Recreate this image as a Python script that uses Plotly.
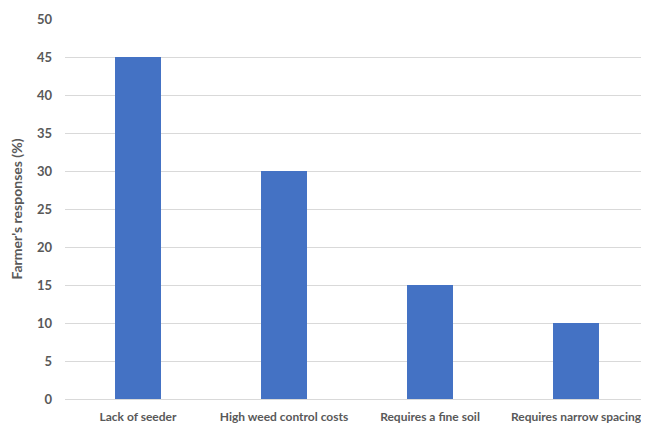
import plotly.graph_objects as go

categories = ["Lack of seeder", "High weed control costs", "Requires a fine soil", "Requires narrow spacing"]
values = [45, 30, 15, 10]
y_ticks = [0, 5, 10, 15, 20, 25, 30, 35, 40, 45, 50]

FAM = "Lato"
fig = go.Figure(go.Bar(x=categories, y=values, marker=dict(color="#4472C4", line=dict(width=0)), width=0.315))

fig.update_layout(
    width=641, height=420,
    margin=dict(l=57, r=0, t=11, b=29),
    plot_bgcolor="white", paper_bgcolor="white",
    showlegend=False,
    font=dict(family=FAM, size=12, color="#595959"),
)
fig.update_xaxes(showgrid=False, showline=False, ticks="",
                 tickfont=dict(family=FAM, size=12, color="#595959", weight="bold"),
                 ticklabelstandoff=9)
fig.update_yaxes(range=[0, 50], tickvals=y_ticks, showgrid=True, gridcolor="#d9d9d9", gridwidth=1,
                 zeroline=True, zerolinecolor="#d9d9d9", zerolinewidth=1,
                 tickfont=dict(family=FAM, size=13, color="#595959", weight="bold"), ticklabelstandoff=12,
                 title=dict(text="Farmer's responses (%)", font=dict(family=FAM, size=14, color="#595959", weight="bold"), standoff=11))
fig.write_html("out.html")
